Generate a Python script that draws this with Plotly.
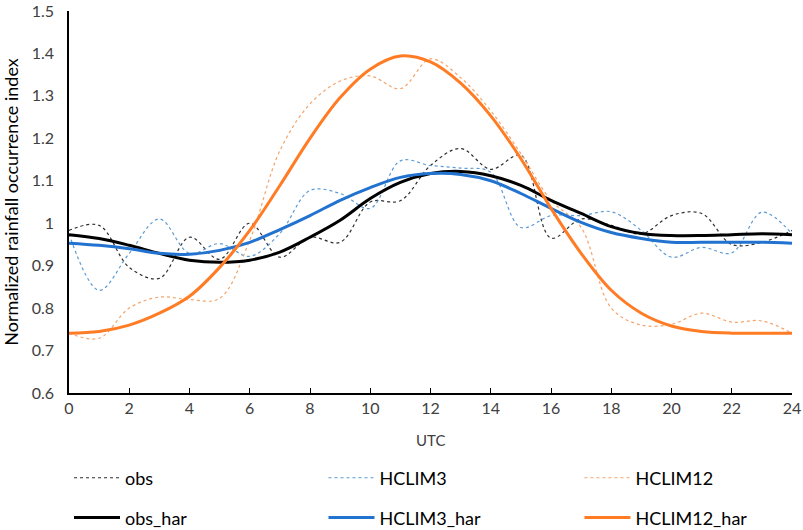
import plotly.graph_objects as go

# hours of the day (UTC)
hours = list(range(25))

# hourly normalized rainfall occurrence index
obs = [0.983, 0.995, 0.896, 0.87, 0.967, 0.915, 1.0, 0.92, 0.967, 0.955, 1.05,
       1.053, 1.136, 1.176, 1.127, 1.16, 0.965, 1.01, 0.995, 0.975, 1.018,
       1.023, 0.95, 0.955, 0.983]
hclim3 = [0.975, 0.842, 0.929, 1.01, 0.929, 0.952, 0.922, 0.976, 1.077, 1.07,
          1.035, 1.147, 1.136, 1.13, 1.12, 0.99, 1.018, 1.018, 1.027, 0.983,
          0.92, 0.943, 0.93, 1.026, 0.975]
hclim12 = [0.741, 0.729, 0.80, 0.826, 0.82, 0.823, 0.96, 1.171, 1.281, 1.335,
           1.347, 1.317, 1.387, 1.343, 1.265, 1.164, 1.054, 0.99, 0.80, 0.76,
           0.762, 0.788, 0.767, 0.77, 0.741]

# harmonic fits
obs_har = [0.973, 0.964, 0.948, 0.929, 0.913, 0.908, 0.913, 0.932, 0.967, 1.007,
           1.058, 1.096, 1.117, 1.122, 1.112, 1.089, 1.054, 1.023, 0.992, 0.976,
           0.971, 0.971, 0.973, 0.975, 0.973]
hclim3_har = [0.953, 0.948, 0.94, 0.929, 0.927, 0.936, 0.955, 0.985, 1.018, 1.054,
              1.084, 1.108, 1.117, 1.115, 1.10, 1.07, 1.035, 1.002, 0.978, 0.964,
              0.955, 0.955, 0.955, 0.955, 0.953]
hclim12_har = [0.741, 0.745, 0.76, 0.788, 0.828, 0.896, 0.983, 1.089, 1.2, 1.296,
               1.363, 1.394, 1.38, 1.33, 1.253, 1.152, 1.035, 0.929, 0.842, 0.788,
               0.758, 0.745, 0.741, 0.741, 0.741]

x_ticks = list(range(0, 25, 2))
y_ticks = [0.6, 0.7, 0.8, 0.9, 1, 1.1, 1.2, 1.3, 1.4, 1.5]
y_tick_text = ["0.6", "0.7", "0.8", "0.9", "1", "1.1", "1.2", "1.3", "1.4", "1.5"]

FONT = "Lato, 'Open Sans', sans-serif"

fig = go.Figure()

# (name, values, colour, dotted?)
series = [
    ("obs", obs, "#2e2e2e", True),
    ("HCLIM3", hclim3, "#5b9bd5", True),
    ("HCLIM12", hclim12, "#f4a46a", True),
    ("obs_har", obs_har, "#000000", False),
    ("HCLIM3_har", hclim3_har, "#2272d0", False),
    ("HCLIM12_har", hclim12_har, "#ff7b24", False),
]

# one legend per entry so the 3x2 grid lands where the reference has it
col_x = [0.0, 0.352, 0.706]
row_y = [0.098, 0.023]  # container fractions, bottom rows of the page

legends = {}
for i, (name, vals, color, dotted) in enumerate(series):
    key = "legend" if i == 0 else f"legend{i + 1}"
    if dotted:
        line = dict(color=color, width=1.2, dash="dot", shape="spline", smoothing=1)
    else:
        line = dict(color=color, width=3, shape="spline", smoothing=1)
    fig.add_trace(go.Scatter(x=hours, y=vals, name=name, mode="lines",
                             legend=key, line=line))
    legends[key] = dict(
        x=col_x[i % 3], y=row_y[i // 3], yref="container",
        xanchor="left", yanchor="middle",
        orientation="h", itemwidth=46, bgcolor="rgba(0,0,0,0)",
        font=dict(family=FONT, size=18, color="#000000"),
    )

fig.update_layout(
    width=803, height=530,
    margin=dict(l=69, r=11, t=11, b=137, autoexpand=False),
    paper_bgcolor="white", plot_bgcolor="white",
    font=dict(family=FONT, color="#404040"),
    showlegend=True,
    xaxis=dict(
        range=[0, 24], tickvals=x_ticks, showgrid=False, zeroline=False,
        showline=True, linecolor="#000000", linewidth=1.5,
        ticks="inside", ticklen=5, tickcolor="#000000", automargin=False,
        tickfont=dict(family=FONT, size=16, color="#404040"),
    ),
    yaxis=dict(
        range=[0.6, 1.5], tickvals=y_ticks, ticktext=y_tick_text,
        showgrid=False, zeroline=False, automargin=False,
        showline=True, linecolor="#000000", linewidth=1.5, ticks="",
        ticklabelstandoff=10,
        tickfont=dict(family=FONT, size=16, color="#404040"),
        title=dict(text="Normalized rainfall occurrence index",
                   font=dict(family=FONT, size=18, color="#000000"), standoff=8),
    ),
    # x-axis title placed as an annotation so it sits exactly where the reference has it
    annotations=[dict(
        text="UTC", x=0.5, y=-0.1227, xref="paper", yref="paper",
        xanchor="center", yanchor="middle", showarrow=False,
        font=dict(family=FONT, size=15, color="#404040"),
    )],
    **legends,
)

# drop the browser's default page margin so the 803x530 figure fills the window
fig.write_html("out.html", config={"displayModeBar": False},
               post_script="document.body.style.margin='0';")
